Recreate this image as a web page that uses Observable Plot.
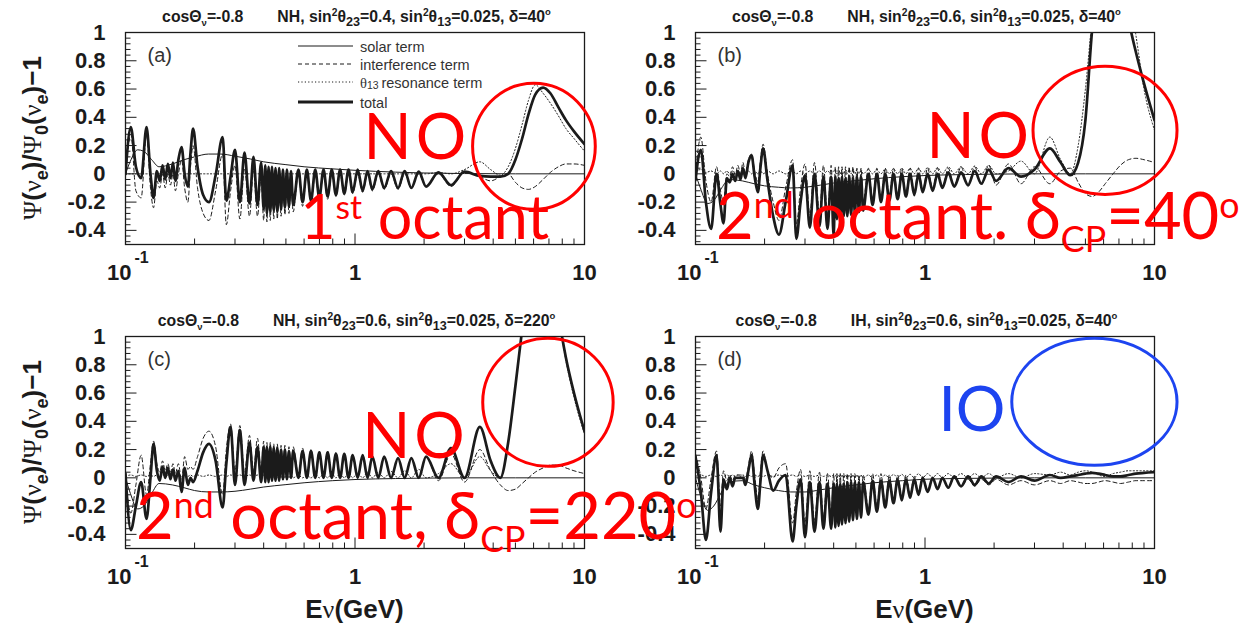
<!DOCTYPE html>
<html><head><meta charset="utf-8">
<script src="https://cdn.jsdelivr.net/npm/d3@7"></script>
<script src="https://cdn.jsdelivr.net/npm/@observablehq/plot@0.6"></script>
<style>
html,body{margin:0;padding:0;background:#fff;}
#wrap{position:relative;width:1249px;height:629px;overflow:hidden;background:#fff;}
</style></head><body><div id="wrap"></div>
<script>
// ---------- data ----------
// shared energy grid (GeV) for the oscillating terms
const energy = [
  0.100,0.1055,0.111,0.117,0.1235,0.1285,0.1325,0.137,0.141,0.145,0.149,0.153,0.157,0.161,0.165,0.170,0.1755,0.181,
  0.187,0.192,0.197,0.206,0.218,0.231,0.247,0.265,0.275,0.287,0.300,0.315,0.330,0.347,0.361,0.376,0.390,0.400,
  0.4065,0.4132,0.4202,0.4274,0.4348,0.4425,0.4505,0.4587,0.4673,0.4762,0.4854,0.4950,0.5051,0.5155,0.5263,0.5376,
  0.567,0.591,0.617,0.643,0.671,0.699,0.729,0.760,0.792,0.826,0.861,0.898,0.937,0.977,1.027,1.08,1.134,1.19,1.263,1.34,
  1.436,1.54,1.646,1.76,1.895,2.04,2.31,2.62,3.0,
  3.5,3.9,4.3,4.65,5.0,5.35,5.7,6.1,6.6,7.1,7.7,8.3,9.0,10.0];
// energy grid for the smooth solar term
const energySolar = [0.1,0.105,0.113,0.12,0.13,0.14,0.16,0.18,0.2,0.23,0.26,0.3,0.35,0.4,0.5,0.6,0.8,1.0,1.5,2,3,5,10];

// panel (a)
const solarA = [0.0,0.09,0.17,0.16,0.10,0.05,0.07,0.10,0.12,0.14,0.14,0.125,0.105,0.085,0.065,0.05,0.035,0.025,0.012,0.006,0.002,0.0,0.0];
const totalA = [
  0.0,0.33,0.05,-0.03,0.33,0.0,-0.17,0.02,-0.05,0.06,-0.04,0.07,-0.03,0.08,-0.05,0.10,0.19,0.0,
  -0.09,0.15,0.32,0.05,-0.15,-0.20,-0.01,0.26,-0.19,-0.02,0.17,-0.20,0.15,-0.21,0.12,-0.22,0.08,-0.25,
  0.06,-0.28,0.05,-0.27,0.05,-0.26,0.04,-0.27,0.04,-0.25,0.03,-0.24,0.03,-0.23,0.02,-0.22,
  0.03,-0.20,0.03,-0.19,0.03,-0.17,0.03,-0.16,0.03,-0.15,0.03,-0.14,0.03,-0.13,0.03,-0.12,0.02,-0.11,0.02,-0.10,
  0.02,-0.10,0.02,-0.10,0.015,-0.09,0.01,-0.08,0.015,
  -0.015,-0.02,-0.02,0.0,0.10,0.25,0.42,0.56,0.61,0.57,0.47,0.38,0.30,0.21];
const interfA = [
  -0.02,0.28,-0.12,-0.17,0.28,-0.10,-0.24,-0.05,-0.10,0.0,-0.10,0.0,-0.08,0.0,-0.12,0.0,0.10,-0.10,
  -0.20,0.05,0.20,-0.10,-0.28,-0.33,-0.12,0.14,-0.36,-0.12,0.06,-0.32,0.04,-0.30,0.02,-0.30,-0.02,-0.33,
  -0.02,-0.34,-0.02,-0.33,-0.03,-0.32,-0.03,-0.32,-0.03,-0.30,-0.03,-0.29,-0.03,-0.28,-0.03,-0.27,
  0.0,-0.23,0.0,-0.21,0.0,-0.19,0.0,-0.18,0.0,-0.16,0.0,-0.15,0.0,-0.14,0.0,-0.13,0.0,-0.12,0.0,-0.11,
  0.0,-0.11,0.0,-0.10,0.0,-0.09,0.0,-0.09,0.01,
  -0.02,-0.05,-0.02,0.0,-0.06,-0.10,-0.11,-0.09,-0.04,0.01,0.05,0.07,0.07,0.06];
const resonA = [
  0,0,0,0,0,0,0,0,0,0,0,0,0,0,0,0,0,0,
  0,0,0,0,0,0,0,0,0,0,0,0,0,0,0,0,0,0,
  0,0,0,0,0,0,0,0,0,0,0,0,0,0,0,0,
  0,0,0,0,0,0,0,0,0,0,0,0,0,0,0,0,0,0,0,0,
  0,0,0,0,0,0,0.01,0.0,0.03,
  0.085,0.03,-0.01,0.05,0.18,0.35,0.52,0.63,0.57,0.50,0.41,0.32,0.25,0.16];

// panel (b)
const solarB = [0.0,-0.10,-0.21,-0.19,-0.10,-0.04,-0.05,-0.07,-0.085,-0.095,-0.10,-0.095,-0.08,-0.065,-0.048,-0.035,-0.02,-0.012,-0.005,-0.002,0.0,0.0,0.0];
const totalB = [
  -0.045,0.17,-0.20,-0.39,0.0,-0.22,-0.35,-0.03,-0.06,0.0,-0.05,0.02,-0.04,0.04,-0.03,0.08,0.13,-0.02,
  -0.13,0.05,0.18,-0.05,-0.30,-0.43,-0.20,0.06,-0.46,-0.20,-0.01,-0.38,0.0,-0.37,-0.02,-0.39,-0.02,-0.44,
  -0.02,-0.32,-0.03,-0.31,-0.02,-0.30,-0.03,-0.30,-0.02,-0.29,-0.03,-0.28,-0.02,-0.27,-0.02,-0.26,
  0.0,-0.22,0.0,-0.20,0.0,-0.19,0.0,-0.18,0.0,-0.16,0.0,-0.15,0.0,-0.13,0.0,-0.12,0.0,-0.10,0.01,-0.09,
  0.01,-0.08,0.02,-0.07,0.03,-0.05,0.04,-0.02,0.03,
  0.18,0.08,-0.01,0.08,0.38,1.02,1.35,1.6,1.65,1.5,1.1,0.86,0.64,0.38];
const interfB = [
  0.0,0.26,-0.05,-0.20,0.05,-0.12,-0.20,0.0,-0.02,0.05,-0.01,0.06,0.0,0.08,0.0,0.10,0.14,0.02,
  -0.06,0.10,0.21,0.0,-0.20,-0.33,-0.10,0.10,-0.36,-0.10,0.07,-0.29,0.08,-0.28,0.06,-0.30,0.06,-0.35,
  0.05,-0.24,0.05,-0.24,0.05,-0.23,0.05,-0.23,0.05,-0.22,0.05,-0.22,0.04,-0.21,0.04,-0.20,
  0.04,-0.18,0.04,-0.17,0.04,-0.16,0.04,-0.15,0.04,-0.14,0.04,-0.13,0.04,-0.12,0.04,-0.11,0.04,-0.10,0.04,-0.09,
  0.05,-0.09,0.05,-0.08,0.06,-0.08,0.07,-0.07,0.05,
  -0.07,0.02,0.04,-0.06,-0.14,-0.16,-0.13,-0.07,0.0,0.06,0.10,0.11,0.10,0.08];
const resonB = [
  0.02,0.03,0.01,0.02,0.0,0.02,0.0,0.02,0.0,0.02,0.0,0.02,0.0,0.02,0.0,0.02,0.0,0.02,
  0.0,0.02,0.0,0.02,0.0,0.02,0.0,0.02,0.0,0.02,0.0,0.02,0.0,0.02,0.0,0.02,0.0,0.02,
  0.03,0,0.03,0,0.03,0,0.03,0,0.03,0,0.03,0,0.03,0,0.03,0,
  0.03,0,0.03,0,0.035,0,0.035,0,0.04,0,0.04,0,0.04,0,0.045,0,0.045,0,0.05,0,
  0.05,0,0.055,0,0.06,0.0,0.02,0.09,0.0,
  0.26,0.10,0.0,0.2,0.6,1.1,1.5,1.75,1.8,1.65,1.3,0.98,0.6,0.31];

// panel (c)
const solarC = [0.0,-0.11,-0.22,-0.20,-0.11,-0.04,-0.05,-0.07,-0.09,-0.10,-0.10,-0.095,-0.08,-0.065,-0.048,-0.035,-0.02,-0.012,-0.005,-0.002,0.0,0.0,0.0];
const totalC = [
  0.03,-0.37,-0.20,-0.03,-0.29,0.0,0.24,0.05,-0.02,0.08,0.0,0.07,-0.01,0.06,-0.02,0.05,-0.10,0.07,
  -0.05,0.0,-0.03,0.05,0.18,0.24,0.12,-0.21,0.10,0.36,-0.05,0.34,-0.05,0.25,-0.02,0.22,-0.03,0.22,
  -0.03,0.22,-0.03,0.22,-0.02,0.21,-0.02,0.21,-0.02,0.20,-0.01,0.20,-0.01,0.19,0.0,0.19,
  0.0,0.19,0.0,0.19,0.0,0.18,0.0,0.18,0.0,0.17,0.0,0.17,0.0,0.16,0.0,0.16,0.0,0.15,0.0,0.15,
  0.0,0.14,0.0,0.14,0.0,0.15,0.0,0.21,0.0,
  0.36,0.12,0.0,0.25,0.65,1.05,1.4,1.65,1.7,1.55,1.15,0.85,0.6,0.33];
const interfC = [
  0.0,-0.25,-0.05,0.16,-0.12,0.10,0.26,0.10,0.04,0.12,0.05,0.10,0.04,0.10,0.03,0.10,-0.02,0.15,
  0.06,0.08,0.06,0.15,0.28,0.33,0.22,-0.12,0.20,0.38,0.05,0.37,0.04,0.30,0.05,0.28,0.04,0.26,
  0.04,0.25,0.04,0.25,0.04,0.24,0.04,0.24,0.03,0.23,0.03,0.23,0.03,0.22,0.03,0.22,
  0.02,0.21,0.02,0.20,0.02,0.19,0.02,0.19,0.02,0.18,0.02,0.17,0.01,0.16,0.01,0.16,0.01,0.15,0.0,0.15,
  0.0,0.14,0.0,0.14,-0.01,0.15,-0.02,0.17,-0.03,
  0.20,0.05,-0.05,-0.09,-0.08,-0.04,0.0,0.04,0.07,0.09,0.09,0.07,0.05,0.03];
const resonC = [
  0.01,0.02,0.01,0.02,0.01,0.02,0.01,0.02,0.01,0.02,0.01,0.02,0.01,0.02,0.01,0.02,0.01,0.02,
  0.01,0.02,0.01,0.02,0.01,0.02,0.01,0.02,0.01,0.02,0.01,0.02,0.01,0.02,0.01,0.02,0.01,0.02,
  0.02,0,0.02,0,0.02,0,0.02,0,0.02,0,0.02,0,0.02,0,0.02,0,
  0.02,0,0.02,0,0.025,0,0.025,0,0.03,0,0.03,0,0.035,0,0.035,0,0.04,0,0.04,0,
  0.045,0,0.05,0,0.06,0.0,0.03,0.10,0.0,
  0.15,0.05,0.0,0.25,0.65,1.05,1.4,1.65,1.7,1.55,1.15,0.83,0.57,0.31];

// panel (d)
const solarD = [0.0,-0.12,-0.23,-0.20,-0.10,-0.03,-0.02,-0.05,-0.07,-0.09,-0.10,-0.10,-0.085,-0.07,-0.05,-0.035,-0.02,-0.01,-0.004,-0.002,0.0,0.0,0.0];
const totalD = [
  0.15,-0.10,-0.44,-0.10,0.16,-0.38,-0.01,-0.08,0.0,-0.06,0.0,0.0,0.0,0.0,-0.05,0.05,0.16,-0.05,
  -0.22,-0.02,0.16,0.05,-0.09,-0.02,0.02,-0.45,-0.20,-0.01,-0.42,-0.03,-0.38,-0.03,-0.36,-0.04,-0.36,-0.04,
  -0.35,-0.04,-0.34,-0.04,-0.33,-0.04,-0.32,-0.03,-0.31,-0.03,-0.30,-0.03,-0.29,-0.03,-0.28,-0.03,
  -0.26,-0.02,-0.24,-0.02,-0.21,-0.02,-0.18,-0.01,-0.16,-0.01,-0.14,-0.01,-0.12,0.0,-0.10,0.0,-0.08,0.0,-0.07,0.01,
  -0.06,0.01,-0.05,0.01,-0.04,0.01,-0.03,0.01,-0.02,
  0.02,0.0,0.01,0.02,0.03,0.035,0.03,0.02,0.01,0.01,0.02,0.03,0.035,0.04];
const interfD = [
  0.17,0.0,-0.22,0.0,0.19,-0.20,0.05,-0.02,0.02,-0.02,0.02,0.02,0.02,0.02,-0.01,0.08,0.19,0.02,
  -0.15,0.05,0.19,0.05,0.0,0.07,0.10,-0.32,-0.10,0.06,-0.32,0.05,-0.30,0.04,-0.28,0.03,-0.28,0.03,
  -0.28,0.03,-0.27,0.03,-0.26,0.03,-0.26,0.03,-0.25,0.03,-0.24,0.03,-0.24,0.02,-0.23,0.02,
  -0.22,0.03,-0.20,0.03,-0.18,0.02,-0.16,0.02,-0.14,0.02,-0.12,0.01,-0.10,0.01,-0.09,0.0,-0.08,0.0,-0.07,0.0,
  -0.06,-0.01,-0.06,-0.01,-0.05,-0.01,-0.05,-0.02,-0.05,
  -0.02,-0.04,-0.02,-0.03,-0.04,-0.04,-0.03,-0.02,-0.03,-0.04,-0.03,-0.02,-0.02,-0.02];
const resonD = [
  0.01,0.02,0.01,0.02,0.01,0.02,0.01,0.02,0.01,0.02,0.01,0.02,0.01,0.02,0.01,0.02,0.01,0.02,
  0.01,0.02,0.01,0.02,0.01,0.02,0.01,0.02,0.01,0.02,0.01,0.02,0.01,0.02,0.01,0.02,0.01,0.02,
  0.02,0,0.02,0,0.02,0,0.02,0,0.02,0,0.02,0,0.02,0,0.02,0,
  0.02,0,0.02,0,0.02,0,0.025,0,0.025,0,0.025,0,0.03,0,0.03,0,0.03,0,0.03,0,
  0.03,0,0.03,0,0.03,0,0.03,0,0.03,
  0.02,0.04,0.02,0.04,0.05,0.04,0.02,0.01,0.03,0.04,0.05,0.05,0.05,0.05];

// ticks and labels
const yTickValues = [-0.4,-0.2,0,0.2,0.4,0.6,0.8,1];
const yTickLabels = ["-0.4","-0.2","0","0.2","0.4","0.6","0.8","1"];
const xTickValues = [0.1,1,10];
const xTickLabels = ["10","1","10"];
const xTickExponents = ["-1","",""];
const legendLabels = ["solar term","interference term","resonance term","total"];

// panel texts
const panelTags = ["(a)","(b)","(c)","(d)"];
const panelHierarchy = ["NH","NH","NH","IH"];
const panelSin23 = ["0.4","0.6","0.6","0.6"];
const panelDelta = ["40","40","220","40"];
const cosZenith = "-0.8";
const sin13 = "0.025";

// annotations (data coordinates: energy, value)
const annotEllipse = [[3.27,11.2,-0.255,0.637],[2.97,12.6,-0.149,0.757],[3.62,13.4,0.078,0.984],[2.40,12.6,0.085,0.984]];
const annotOrdering = ["NO","NO","NO","IO"];
const annotOrderingAt = [[1.095,0.099],[1.02,0.106],[1.08,0.134],[1.15,0.326]];
const annotOctant = [["1","st"," octant","",""],["2","nd"," octant. δ","CP","=40"],["2","nd"," octant, δ","CP","=220"],null];
const annotOctantAt = [[0.58,-0.467],[0.1236,-0.467],[0.1117,-0.439],null];
const annotColor = ["#ff0000","#ff0000","#ff0000","#1d44f0"];

// ---------- drawing ----------
const FONT = "'Liberation Sans', Arial, Helvetica, sans-serif";
const SERIF = "'Liberation Serif', 'DejaVu Serif', serif";
const ANNOT = "Lato, 'Open Sans', sans-serif";
const INK = "#1b1b1b";
const octantFontSize = [61, 65, 65, 0];
const orderingStyle = [{size: 63, ls: 4}, {size: 63, ls: 4}, {size: 63, ls: 4}, {size: 62, ls: 0}];

const layout = [
  {left:0, top:0, height:300, z:1},
  {left:570, top:0, height:300, z:1},
  {left:0, top:304, height:325, z:3},
  {left:570, top:304, height:325, z:1}];
const series = [
  {solar:solarA, total:totalA, interf:interfA, reson:resonA},
  {solar:solarB, total:totalB, interf:interfB, reson:resonB},
  {solar:solarC, total:totalC, interf:interfC, reson:resonC},
  {solar:solarD, total:totalD, interf:interfD, reson:resonD}];

const tickRight = len => ({draw(ctx){ ctx.moveTo(0,0); ctx.lineTo(len,0); }});
const tickUp = len => ({draw(ctx){ ctx.moveTo(0,0); ctx.lineTo(0,-len); }});
const yMinorTicks = d3.range(-12, 25).map(k => +(k*0.04).toFixed(2)).filter(v => Math.abs(v*5 - Math.round(v*5)) > 1e-6);
const xMinorTicks = d3.range(2, 10).flatMap(k => [k/10, k]);
const xTicks = xTickValues.map((v,i) => ({v, label: xTickLabels[i], exp: xTickExponents[i]}));

function rich(sel, parts, size) {
  let cur = 0;
  for (const p of parts) {
    const k = p.k || "";
    const fs = (k === "sup" || k === "sub") ? size * (p.s || 0.55) : size;
    const off = k === "sup" ? -size * (p.o ?? 0.33) : k === "sub" ? size * (p.o ?? 0.2) : 0;
    const ts = sel.append("tspan").text(p.t).attr("font-size", fs).attr("dy", off - cur);
    if (p.dx) ts.attr("dx", p.dx);
    if (p.f) ts.attr("font-family", p.f);
    if (p.w) ts.attr("font-weight", p.w);
    cur = off;
  }
}

const wrap = document.getElementById("wrap");

series.forEach((s, idx) => {
  const L = layout[idx];
  const rows = vals => energy.map((e, i) => ({e, v: vals[i]}));
  const srows = vals => energySolar.map((e, i) => ({e, v: vals[i]}));
  const lineOpt = {x: "e", y: "v", stroke: INK, curve: "monotone-x", clip: true};
  const svg = Plot.plot({
    width: 620, height: L.height,
    marginLeft: 125, marginRight: 36, marginTop: 32, marginBottom: L.height - 32 - 212,
    x: {type: "log", domain: [0.1, 10], axis: null},
    y: {domain: [-0.5, 1], axis: null},
    marks: [
      Plot.line(srows(s.solar), {...lineOpt, strokeWidth: 1}),
      Plot.line(rows(s.reson), {...lineOpt, strokeWidth: 1, strokeDasharray: "1.2,2.2"}),
      Plot.line(rows(s.interf), {...lineOpt, strokeWidth: 1, strokeDasharray: "4,3"}),
      Plot.line(rows(s.total), {...lineOpt, strokeWidth: 2.7}),
      Plot.frame({stroke: INK, strokeWidth: 1.3}),
      Plot.dot(yTickValues, {x: () => 0.1, y: d => d, symbol: tickRight(11), stroke: INK, fill: "none", strokeWidth: 1}),
      Plot.dot(yMinorTicks, {x: () => 0.1, y: d => d, symbol: tickRight(5), stroke: INK, fill: "none", strokeWidth: 1}),
      Plot.dot(xTickValues, {x: d => d, y: () => -0.5, symbol: tickUp(11), stroke: INK, fill: "none", strokeWidth: 1}),
      Plot.dot(xMinorTicks, {x: d => d, y: () => -0.5, symbol: tickUp(6), stroke: INK, fill: "none", strokeWidth: 1}),
      Plot.text(yTickValues, {x: () => 0.1, y: d => d, text: (d, i) => yTickLabels[i], textAnchor: "end", dx: -20, fontSize: 22, fontWeight: "bold", fontFamily: FONT, fill: INK}),
      Plot.text(xTicks.filter(d => !d.exp), {x: "v", y: () => -0.5, text: "label", dy: 28, fontSize: 22, fontWeight: "bold", fontFamily: FONT, fill: INK}),
      Plot.text(xTicks.filter(d => d.exp), {x: "v", y: () => -0.5, text: "label", textAnchor: "end", dx: 6, dy: 28, fontSize: 22, fontWeight: "bold", fontFamily: FONT, fill: INK}),
      Plot.text(xTicks.filter(d => d.exp), {x: "v", y: () => -0.5, text: "exp", textAnchor: "start", dx: 9, dy: 13, fontSize: 16, fontWeight: "bold", fontFamily: FONT, fill: INK}),
      Plot.text([panelTags[idx]], {frameAnchor: "top-left", dx: 22, dy: 23, lineAnchor: "middle", fontSize: 20, fontFamily: FONT, fill: "#333"})
    ]
  });
  svg.style.position = "absolute";
  svg.style.left = L.left + "px";
  svg.style.top = L.top + "px";
  svg.style.zIndex = L.z;
  svg.style.overflow = "visible";
  svg.style.background = "transparent";
  svg.style.maxWidth = "none";
  wrap.appendChild(svg);

  const sx = svg.scale("x"), sy = svg.scale("y");
  const g = d3.select(svg);
  const fx0 = sx.apply(0.1), fx1 = sx.apply(10);
  const cx = (fx0 + fx1) / 2;

  // title
  const t = g.append("text").attr("x", cx + 2).attr("y", 22).attr("text-anchor", "middle")
    .attr("font-family", FONT).attr("font-weight", "bold").attr("fill", INK);
  rich(t, [
    {t: "cosΘ"}, {t: "ν", k: "sub", s: 0.6, o: 0.25}, {t: "=" + cosZenith},
    {t: panelHierarchy[idx] + ", sin", dx: 34}, {t: "2", k: "sup", s: 0.65, o: 0.4}, {t: "θ"},
    {t: "23", k: "sub", s: 0.8, o: 0.25}, {t: "=" + panelSin23[idx] + ", sin"}, {t: "2", k: "sup", s: 0.65, o: 0.4},
    {t: "θ"}, {t: "13", k: "sub", s: 0.8, o: 0.25}, {t: "=" + sin13 + ", δ=" + panelDelta[idx]},
    {t: "o", k: "sup", s: 0.6, o: 0.45}], 15.8);

  // y title on the left column
  if (L.left === 0) {
    const yt = g.append("text").attr("transform", `translate(41,${32 + 106}) rotate(-90)`)
      .attr("text-anchor", "middle").attr("font-family", FONT).attr("font-weight", "bold").attr("fill", INK);
    rich(yt, [
      {t: "Ψ", f: SERIF, w: "normal"}, {t: "("}, {t: "ν", f: SERIF, w: "normal"}, {t: "e", k: "sub", s: 0.7, o: 0.28},
      {t: ")/"}, {t: "Ψ", f: SERIF, w: "normal"}, {t: "0", k: "sub", s: 0.7, o: 0.28}, {t: "("},
      {t: "ν", f: SERIF, w: "normal"}, {t: "e", k: "sub", s: 0.7, o: 0.28}, {t: ")−1"}], 26);
  }
  // x title on the bottom row
  if (L.top > 0) {
    const xt = g.append("text").attr("x", cx).attr("y", 314).attr("text-anchor", "middle")
      .attr("font-family", FONT).attr("font-weight", "bold").attr("fill", INK);
    rich(xt, [{t: "E"}, {t: "ν", f: SERIF, w: "normal"}, {t: "(GeV)"}], 26);
  }
  // legend in panel (a)
  if (idx === 0) {
    const styles = [{w: 1, d: null}, {w: 1, d: "4,3"}, {w: 1, d: "1.2,2.2"}, {w: 3, d: null}];
    const ys = [46, 64, 82, 102];
    styles.forEach((st, i) => {
      const ln = g.append("line").attr("x1", 298).attr("x2", 353).attr("y1", ys[i]).attr("y2", ys[i])
        .attr("stroke", INK).attr("stroke-width", st.w);
      if (st.d) ln.attr("stroke-dasharray", st.d);
      const tx = g.append("text").attr("x", 360).attr("y", ys[i] + 6).attr("text-anchor", "start")
        .attr("font-family", FONT).attr("font-size", 14.5).attr("fill", "#333");
      if (i === 2) rich(tx, [{t: "θ", f: SERIF}, {t: "13 ", k: "sub", s: 0.72, o: 0.1}, {t: legendLabels[i]}], 14.5);
      else tx.text(legendLabels[i]);
    });
  }

  // annotations
  const col = annotColor[idx];
  const [e0, e1, v0, v1] = annotEllipse[idx];
  const X0 = sx.apply(e0), X1 = sx.apply(e1), Y0 = sy.apply(v0), Y1 = sy.apply(v1);
  g.append("ellipse").attr("cx", (X0 + X1) / 2).attr("cy", (Y0 + Y1) / 2)
    .attr("rx", Math.abs(X1 - X0) / 2).attr("ry", Math.abs(Y1 - Y0) / 2)
    .attr("fill", "none").attr("stroke", col).attr("stroke-width", 3);
  const [oe, ov] = annotOrderingAt[idx];
  g.append("text").attr("x", sx.apply(oe)).attr("y", sy.apply(ov)).attr("text-anchor", "start")
    .attr("font-family", ANNOT).attr("font-size", orderingStyle[idx].size)
    .attr("letter-spacing", orderingStyle[idx].ls).attr("fill", col).text(annotOrdering[idx]);
  if (annotOctant[idx]) {
    const [n, sup, mid, sub, tail] = annotOctant[idx];
    const [ae, av] = annotOctantAt[idx];
    const at = g.append("text").attr("x", sx.apply(ae)).attr("y", sy.apply(av)).attr("text-anchor", "start")
      .attr("font-family", ANNOT).attr("fill", col);
    const parts = [{t: n}, {t: sup, k: "sup", s: 0.55, o: 0.33}, {t: mid}];
    if (sub) parts.push({t: sub, k: "sub", s: 0.55, o: 0.2}, {t: tail}, {t: "o", k: "sup", s: 0.55, o: 0.33});
    rich(at, parts, octantFontSize[idx]);
  }
});
</script></body></html>
